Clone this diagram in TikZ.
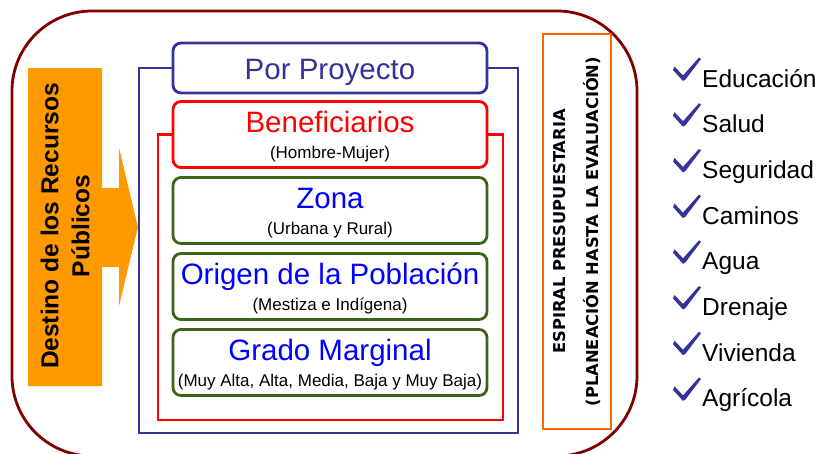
\documentclass[tikz,border=0pt]{standalone}
\usepackage{fontspec}
\setmainfont{Liberation Sans}
\newfontfamily\espfont{DejaVu Sans}
\usetikzlibrary{positioning}

\definecolor{marco}{RGB}{128,0,0}
\definecolor{naranja}{RGB}{255,153,0}
\definecolor{naranjaosc}{RGB}{255,102,0}
\definecolor{azulosc}{RGB}{51,51,153}
\definecolor{verde}{RGB}{60,100,20}
\definecolor{azul}{RGB}{0,0,255}
\definecolor{rojo}{RGB}{255,0,0}

\newcommand{\titulo}[2]{{\color{#1}\fontsize{29.5}{26}\selectfont\rule{0pt}{25pt}#2}}

\tikzset{
  caja/.style={draw=#1, line width=2.8pt, rounded corners=8pt, minimum width=314pt,
    minimum height=66pt, align=center, inner sep=0pt, font=\fontsize{17}{26}\selectfont},
  item/.style={anchor=base west, inner sep=0pt, font=\fontsize{24.5}{25}\selectfont},
  pics/palomita/.style={code={
    \fill[azulosc] (-29,-17) -- (-27.5,-20.5) -- (-19,-11.5) -- (-3,-29.5) -- (-1,-28)
      -- (-16.5,-7.5) -- (-19,-6) -- cycle;
  }},
}

\begin{document}
\begin{tikzpicture}[x=1pt,y=-1pt,node distance=76pt,on grid]
\useasboundingbox (0,0) rectangle (821,453);
% marco exterior
\draw[marco, line width=2.8pt, rounded corners=80pt] (12,11) rectangle (637,456);

% flecha
\fill[naranja] (28,68) -- (102,68) -- (102,188) -- (119,188) -- (119,148) -- (138,227)
  -- (119,306) -- (119,267) -- (102,267) -- (102,386) -- (28,386) -- cycle;
\node[rotate=90, align=center, font=\bfseries\fontsize{24.5}{31}\selectfont] (destino) at (65,226)
  {Destino de los Recursos\\Públicos};

% cajas
\node[caja=azulosc, minimum height=50pt, font=\fontsize{29.5}{30}\selectfont, text=azulosc] (proyecto) at (330,68) {\rule{0pt}{29pt}Por Proyecto};
\node[caja=rojo] (benef) [below=66.5pt of proyecto] {\titulo{rojo}{Beneficiarios}\\(Hombre-Mujer)};
\node[caja=verde] (zona) [below=of benef] {\titulo{azul}{Zona}\\(Urbana y Rural)};
\node[caja=verde] (origen) [below=of zona] {\titulo{azul}{Origen de la Población}\\(Mestiza e Indígena)};
\node[caja=verde] (grado) [below=of origen] {\titulo{azul}{Grado Marginal}\\(Muy Alta, Alta, Media, Baja y Muy Baja)};

% corchetes
\coordinate (azulSI) at (139,433);
\coordinate (azulD) at (518,0);
\coordinate (rojoSI) at (158,420);
\coordinate (rojoD) at (503,0);
\draw[azulosc, line width=2.8pt] (proyecto.west) -| (azulSI) -- (azulSI -| azulD) |- (proyecto.east);
\draw[rojo, line width=2.8pt] (benef.west) -| (rojoSI) -- (rojoSI -| rojoD) |- (benef.east);

% espiral
\node[rotate=90, draw=naranjaosc, line width=2.8pt, minimum width=395pt, minimum height=68pt,
  align=center, font=\espfont\bfseries\fontsize{16.3}{33}\selectfont] (espiral) at (577,231.5)
  {ESPIRAL PRESUPUESTARIA\\(PLANEACIÓN HASTA LA EVALUACIÓN)};

% lista
\node[item] (educacion) at (702,87) {Educación};
\node[item] (salud) at (702,132.7) {Salud};
\node[item] (seguridad) at (702,178.4) {Seguridad};
\node[item] (caminos) at (702,224.1) {Caminos};
\node[item] (agua) at (702,269.8) {Agua};
\node[item] (drenaje) at (702,315.5) {Drenaje};
\node[item] (vivienda) at (702,361.2) {Vivienda};
\node[item] (agricola) at (702,406.9) {Agrícola};
\foreach \n in {educacion,salud,seguridad,caminos,agua,drenaje,vivienda,agricola}
  \pic at (\n.base west) {palomita};
\end{tikzpicture}
\end{document}
